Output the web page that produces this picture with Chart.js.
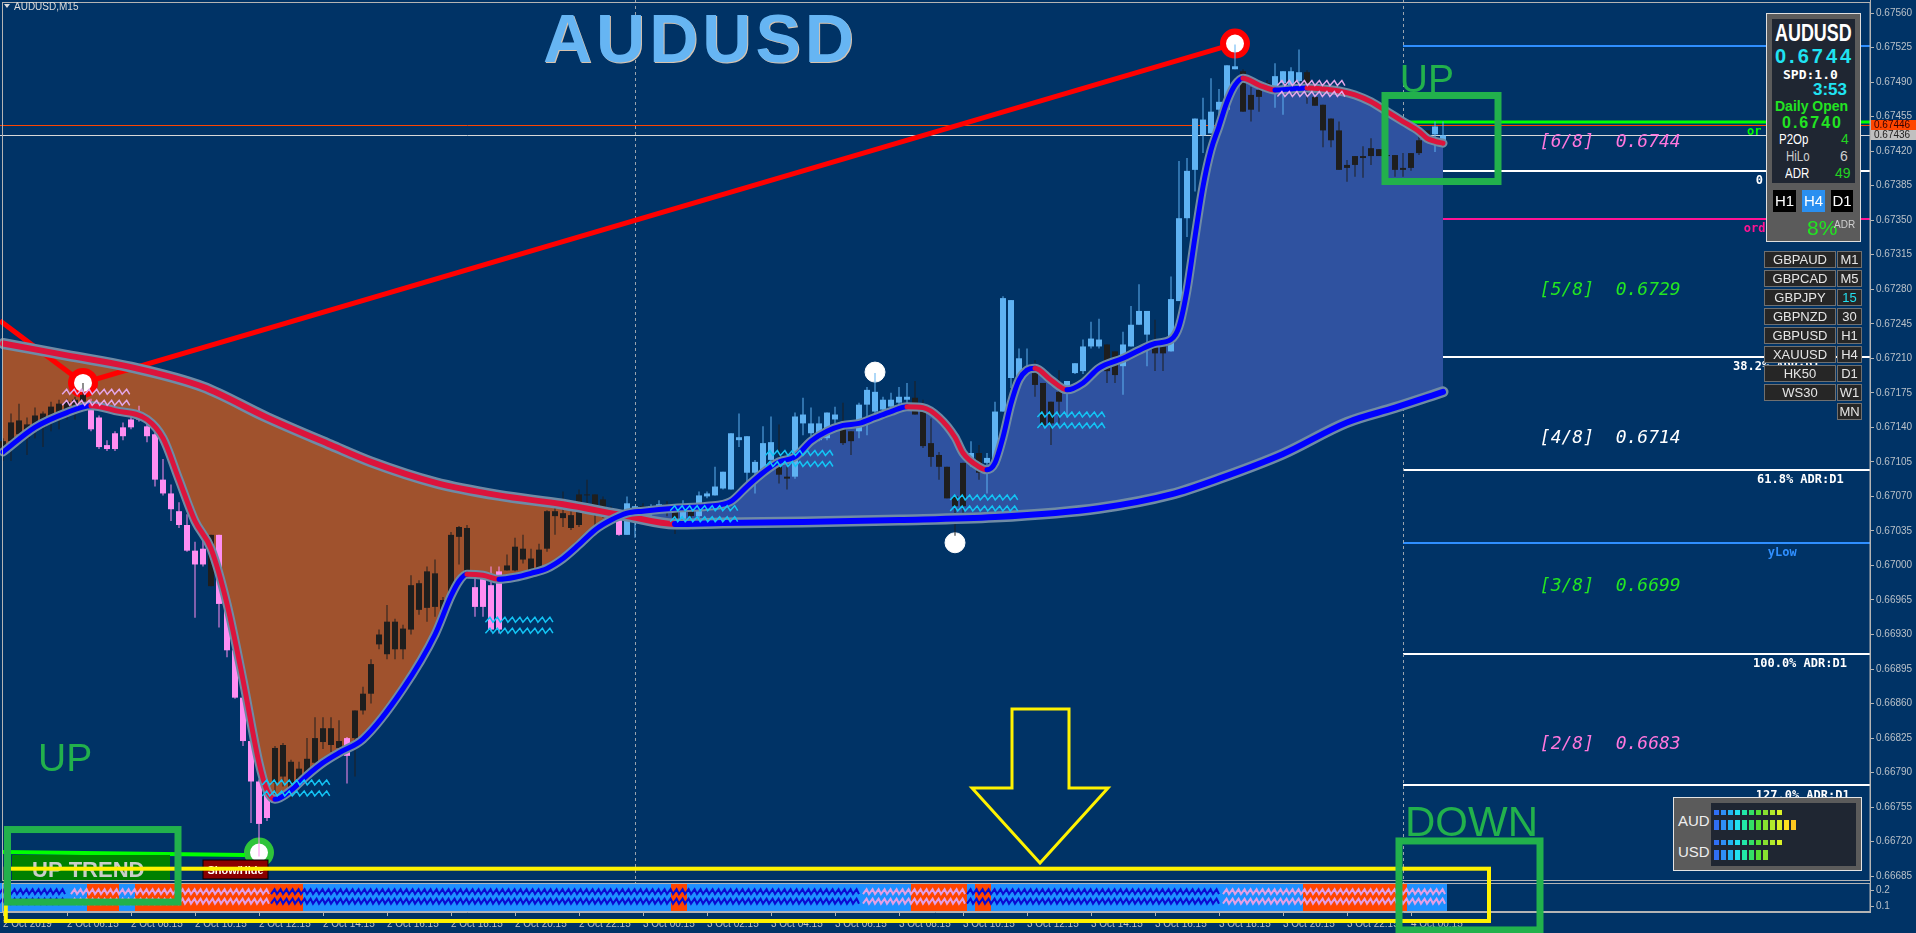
<!DOCTYPE html>
<html>
<head>
<meta charset="utf-8">
<title>AUDUSD M15</title>
<script src="https://cdn.jsdelivr.net/npm/chart.js@4.4.1/dist/chart.umd.min.js"></script>
<style>
  html, body { margin: 0; padding: 0; background: #003366; overflow: hidden; }
  #stage { position: relative; width: 1916px; height: 933px; font-family: "Liberation Sans", Arial, sans-serif; }
  #stage canvas { position: absolute; left: 0; top: 0; }
  .abs { position: absolute; white-space: nowrap; line-height: 1; }
  #title { left: 543px; top: 4px; font-size: 68px; font-weight: bold; letter-spacing: 4px; color: #66b5f3; text-shadow: 1px 1px 0 #d9c3ad; }
  #info { left: 1766px; top: 13px; width: 95px; height: 229px; box-sizing: border-box; border: 1px solid #dedede; background: #5b5b5b; }
  #infoIn { left: 1772px; top: 19px; width: 83px; height: 164px; background: #1f2632; }
  .btn { position: absolute; box-sizing: border-box; height: 22px; top: 190px; color: #fff; font-size: 15px; text-align: center; line-height: 22px; }
  .sym { position: absolute; box-sizing: border-box; height: 17px; border: 1px solid #707070; background: #262626; color: #e6e6e6; font-size: 13px; text-align: center; line-height: 15px; }
  .narrow { transform: scaleX(0.82); transform-origin: 0 0; }
  #str { left: 1673px; top: 797px; width: 189px; height: 74px; box-sizing: border-box; border: 1px solid #e4e4e4; background: #5b5b5b; }
  #strIn { left: 1711px; top: 803px; width: 145px; height: 63px; background: #1f2632; }
  .seg { position: absolute; }
</style>
</head>
<body>
<div id="stage">
  <canvas id="c" width="1916" height="933"></canvas>
  <div id="title" class="abs">AUDUSD</div>

  <div id="info" class="abs"></div>
  <div id="infoIn" class="abs"></div>
  <div class="abs" style="left:1775px;top:22px;font-size:23px;font-weight:bold;color:#fff;transform:scaleX(0.78);transform-origin:0 0;">AUDUSD</div>
  <div class="abs" style="left:1775px;top:46px;font-size:20px;font-weight:bold;letter-spacing:3px;color:#1fe3f2;">0.6744</div>
  <div class="abs" style="left:1783px;top:67px;font:bold 13px 'DejaVu Sans Mono',monospace;color:#fff;">SPD:1.0</div>
  <div class="abs" style="left:1813px;top:81px;font-size:17px;font-weight:bold;color:#1fe3f2;">3:53</div>
  <div class="abs" style="left:1775px;top:99px;font-size:14px;font-weight:bold;color:#22e422;">Daily Open</div>
  <div class="abs" style="left:1782px;top:115px;font-size:16px;font-weight:bold;letter-spacing:2px;color:#22e422;">0.6740</div>
  <div class="abs narrow" style="left:1779px;top:132px;font-size:14px;color:#fff;">P2Op</div>
  <div class="abs" style="left:1841px;top:132px;font-size:14px;color:#22d422;">4</div>
  <div class="abs narrow" style="left:1786px;top:149px;font-size:14px;color:#cfcfcf;">HiLo</div>
  <div class="abs" style="left:1840px;top:149px;font-size:14px;color:#cfcfcf;">6</div>
  <div class="abs narrow" style="left:1785px;top:166px;font-size:14px;color:#fff;">ADR</div>
  <div class="abs" style="left:1835px;top:166px;font-size:14px;color:#22d422;">49</div>
  <div class="btn" style="left:1773px;width:23px;background:#000;">H1</div>
  <div class="btn" style="left:1802px;width:23px;background:#2a8ff0;">H4</div>
  <div class="btn" style="left:1831px;width:22px;background:#000;">D1</div>
  <div class="abs" style="left:1807px;top:217px;font-size:21px;color:#22e422;">8%</div>
  <div class="abs" style="left:1834px;top:220px;font-size:10px;color:#cfcfcf;">ADR</div>

  <div id="symbols"></div>

  <div id="str" class="abs"></div>
  <div id="strIn" class="abs"></div>
  <div class="abs" style="left:1678px;top:813px;font-size:15px;color:#eee;">AUD</div>
  <div class="abs" style="left:1678px;top:844px;font-size:15px;color:#eee;">USD</div>
  <div id="meters"></div>
</div>

<script>
// ---------- values ----------
const timeLabels = ["2 Oct 2019", "2 Oct 06:15", "2 Oct 08:15", "2 Oct 10:15", "2 Oct 12:15", "2 Oct 14:15",
  "2 Oct 16:15", "2 Oct 18:15", "2 Oct 20:15", "2 Oct 22:15", "3 Oct 00:15", "3 Oct 02:15", "3 Oct 04:15",
  "3 Oct 06:15", "3 Oct 08:15", "3 Oct 10:15", "3 Oct 12:15", "3 Oct 14:15", "3 Oct 16:15", "3 Oct 18:15",
  "3 Oct 20:15", "3 Oct 22:15", "4 Oct 00:15"];
const priceTicks = [0.67560, 0.67525, 0.67490, 0.67455, 0.67420, 0.67385, 0.67350, 0.67315, 0.67280, 0.67245,
  0.67210, 0.67175, 0.67140, 0.67105, 0.67070, 0.67035, 0.67000, 0.66965, 0.66930, 0.66895, 0.66860, 0.66825,
  0.66790, 0.66755, 0.66720, 0.66685];
const subTicks = [0.1, 0.2];

// M15 candles, one entry per bar (bar 0 = 2 Oct 04:15)
const opens = [
  0.67113,0.67126,0.67133,0.67129,0.67136,0.67140,0.67150,0.67154,0.67157,0.67161,
  0.67166,0.67164,0.67150,0.67122,0.67134,0.67140,0.67148,0.67155,0.67141,0.67133,
  0.67087,0.67073,0.67055,0.67041,0.67015,0.67017,0.66979,0.67031,0.66961,0.66914,
  0.66866,0.66822,0.66781,0.66770,0.66780,0.66786,0.66770,0.66780,0.66790,0.66800,
  0.66821,0.66818,0.66815,0.66825,0.66825,0.66853,0.66870,0.66920,0.66910,0.66915,
  0.66915,0.66935,0.66955,0.66957,0.66958,0.66955,0.66972,0.67029,0.66989,0.66978,
  0.66987,0.66980,0.66994,0.66995,0.66995,0.67006,0.66995,0.66995,0.67017,0.67050,
  0.67048,0.67038,0.67041,0.67071,0.67053,0.67050,0.67048,0.67046,0.67031,0.67050,
  0.67060,0.67055,0.67060,0.67062,0.67058,0.67045,0.67058,0.67050,0.67070,0.67071,
  0.67078,0.67077,0.67127,0.67094,0.67094,0.67094,0.67107,0.67100,0.67090,0.67090,
  0.67144,0.67134,0.67127,0.67129,0.67148,0.67138,0.67136,0.67136,0.67163,0.67156,
  0.67158,0.67161,0.67165,0.67168,0.67170,0.67158,0.67124,0.67112,0.67100,0.67070,
  0.67104,0.67107,0.67114,0.67104,0.67107,0.67156,0.67190,0.67190,0.67197,0.67195,
  0.67185,0.67166,0.67176,0.67182,0.67195,0.67197,0.67222,0.67222,0.67224,0.67217,
  0.67202,0.67222,0.67244,0.67234,0.67227,0.67222,0.67217,0.67268,0.67352,0.67401,
  0.67436,0.67438,0.67462,0.67462,0.67503,0.67501,0.67477,0.67482,0.67489,0.67481,
  0.67489,0.67487,0.67491,0.67500,0.67475,0.67467,0.67453,0.67441,0.67406,0.67415,
  0.67415,0.67423,0.67422,0.67416,0.67416,0.67403,0.67418,0.67431,0.67441,0.67437,
  0.67430];
const highs = [
  0.67129,0.67154,0.67164,0.67150,0.67160,0.67156,0.67166,0.67168,0.67169,0.67171,
  0.67185,0.67169,0.67152,0.67127,0.67136,0.67145,0.67157,0.67162,0.67145,0.67136,
  0.67108,0.67082,0.67064,0.67052,0.67024,0.67028,0.67031,0.67031,0.66963,0.66916,
  0.66868,0.66824,0.66783,0.66775,0.66817,0.66820,0.66803,0.66801,0.66825,0.66846,
  0.66846,0.66846,0.66843,0.66826,0.66853,0.66877,0.66905,0.66935,0.66960,0.66946,
  0.66940,0.66990,0.66985,0.66999,0.67006,0.66968,0.67034,0.67040,0.67041,0.66989,
  0.66987,0.66999,0.66999,0.67011,0.67028,0.67031,0.67017,0.67022,0.67056,0.67063,
  0.67075,0.67055,0.67077,0.67087,0.67072,0.67070,0.67060,0.67048,0.67070,0.67060,
  0.67063,0.67062,0.67066,0.67065,0.67060,0.67066,0.67062,0.67075,0.67075,0.67100,
  0.67095,0.67134,0.67154,0.67131,0.67107,0.67141,0.67151,0.67143,0.67100,0.67155,
  0.67170,0.67160,0.67151,0.67155,0.67161,0.67165,0.67136,0.67165,0.67181,0.67195,
  0.67171,0.67175,0.67181,0.67185,0.67187,0.67168,0.67149,0.67115,0.67100,0.67070,
  0.67104,0.67126,0.67122,0.67114,0.67166,0.67273,0.67269,0.67220,0.67220,0.67208,
  0.67185,0.67166,0.67198,0.67187,0.67205,0.67229,0.67247,0.67250,0.67224,0.67217,
  0.67237,0.67263,0.67285,0.67258,0.67249,0.67222,0.67293,0.67410,0.67413,0.67453,
  0.67474,0.67494,0.67483,0.67507,0.67528,0.67503,0.67485,0.67487,0.67492,0.67509,
  0.67501,0.67505,0.67523,0.67502,0.67476,0.67467,0.67453,0.67450,0.67411,0.67415,
  0.67425,0.67433,0.67422,0.67420,0.67416,0.67418,0.67418,0.67441,0.67441,0.67450,
  0.67450];
const lows = [
  0.67106,0.67106,0.67122,0.67112,0.67129,0.67120,0.67136,0.67138,0.67148,0.67148,
  0.67161,0.67136,0.67118,0.67116,0.67116,0.67127,0.67138,0.67146,0.67125,0.67080,
  0.67071,0.67045,0.67038,0.67014,0.66947,0.66999,0.66979,0.66937,0.66907,0.66865,
  0.66817,0.66739,0.66705,0.66741,0.66764,0.66776,0.66763,0.66776,0.66786,0.66793,
  0.66814,0.66811,0.66804,0.66779,0.66786,0.66849,0.66860,0.66915,0.66905,0.66905,
  0.66905,0.66930,0.66950,0.66943,0.66948,0.66948,0.66969,0.67001,0.66987,0.66948,
  0.66948,0.66933,0.66931,0.66995,0.66994,0.67002,0.66994,0.66995,0.67014,0.67031,
  0.67039,0.67036,0.67039,0.67058,0.67039,0.67048,0.67045,0.67030,0.67031,0.67028,
  0.67052,0.67050,0.67055,0.67050,0.67032,0.67043,0.67036,0.67048,0.67068,0.67071,
  0.67077,0.67077,0.67120,0.67077,0.67073,0.67090,0.67104,0.67083,0.67077,0.67088,
  0.67132,0.67131,0.67126,0.67127,0.67144,0.67122,0.67112,0.67129,0.67132,0.67154,
  0.67154,0.67153,0.67161,0.67161,0.67153,0.67119,0.67100,0.67087,0.67068,0.67030,
  0.67053,0.67100,0.67087,0.67073,0.67107,0.67156,0.67180,0.67190,0.67193,0.67171,
  0.67141,0.67122,0.67144,0.67150,0.67194,0.67194,0.67220,0.67220,0.67185,0.67185,
  0.67173,0.67222,0.67244,0.67202,0.67197,0.67197,0.67217,0.67268,0.67333,0.67379,
  0.67418,0.67438,0.67445,0.67462,0.67503,0.67460,0.67450,0.67460,0.67482,0.67464,
  0.67457,0.67482,0.67487,0.67468,0.67466,0.67424,0.67424,0.67401,0.67389,0.67394,
  0.67393,0.67406,0.67415,0.67410,0.67394,0.67394,0.67400,0.67416,0.67435,0.67419,
  0.67428];
const closes = [
  0.67126,0.67145,0.67147,0.67143,0.67152,0.67154,0.67161,0.67164,0.67166,0.67168,
  0.67173,0.67138,0.67120,0.67118,0.67118,0.67131,0.67140,0.67148,0.67131,0.67087,
  0.67073,0.67057,0.67041,0.67015,0.67001,0.67001,0.67031,0.66961,0.66914,0.66866,
  0.66822,0.66781,0.66738,0.66744,0.66815,0.66818,0.66801,0.66794,0.66804,0.66825,
  0.66835,0.66835,0.66822,0.66807,0.66853,0.66870,0.66900,0.66930,0.66943,0.66943,
  0.66936,0.66980,0.66982,0.66994,0.66992,0.66965,0.67031,0.67039,0.67038,0.66958,
  0.66958,0.66935,0.66935,0.67000,0.67019,0.67017,0.67007,0.67016,0.67055,0.67055,
  0.67053,0.67051,0.67072,0.67072,0.67072,0.67067,0.67055,0.67031,0.67063,0.67060,
  0.67055,0.67060,0.67062,0.67058,0.67045,0.67060,0.67050,0.67071,0.67073,0.67080,
  0.67095,0.67134,0.67130,0.67131,0.67105,0.67124,0.67125,0.67092,0.67088,0.67151,
  0.67153,0.67144,0.67144,0.67155,0.67153,0.67124,0.67126,0.67163,0.67178,0.67176,
  0.67168,0.67168,0.67171,0.67171,0.67153,0.67121,0.67110,0.67100,0.67068,0.67060,
  0.67060,0.67114,0.67094,0.67109,0.67156,0.67271,0.67269,0.67210,0.67199,0.67183,
  0.67142,0.67144,0.67166,0.67187,0.67205,0.67222,0.67230,0.67229,0.67197,0.67193,
  0.67224,0.67244,0.67258,0.67258,0.67215,0.67215,0.67270,0.67352,0.67400,0.67453,
  0.67452,0.67460,0.67470,0.67507,0.67506,0.67460,0.67462,0.67475,0.67486,0.67496,
  0.67501,0.67501,0.67500,0.67484,0.67466,0.67441,0.67431,0.67401,0.67403,0.67406,
  0.67413,0.67415,0.67415,0.67415,0.67401,0.67401,0.67403,0.67418,0.67435,0.67445,
  0.67436];

// fast and slow moving averages, read at these bars
const fastBars = [0,4,8,11,14,18,20,22,24,26, 28,30,32,33,34,36,38,40,42,45, 50,54,56,57,58,60,62,64,66,68,
  70,72,74,76,78,80,84,88,91,93, 95,97,99,101,103,105,107,109,111,113, 115,117,119,120,122,123,124,125,126,127,
  128,129,131,133,135,137,140,142,144,146, 147,148,149,150,151,152,153,154,155,157, 159,161,163,165,167,169,171,173,175,177,
  178,179,180];
const fastMA = [0.67115,0.67140,0.67155,0.67162,0.67157,0.67148,0.67129,0.67087,0.67045,0.67017,
  0.66961,0.66884,0.66800,0.66772,0.66763,0.66772,0.66787,0.66800,0.66810,0.66824,
  0.66875,0.66930,0.66969,0.66984,0.66991,0.66990,0.66986,0.66988,0.66992,0.66997,
  0.67007,0.67021,0.67036,0.67046,0.67053,0.67055,0.67058,0.67060,0.67065,0.67080,
  0.67094,0.67105,0.67110,0.67126,0.67136,0.67142,0.67144,0.67150,0.67156,0.67161,
  0.67160,0.67150,0.67130,0.67114,0.67100,0.67097,0.67104,0.67130,0.67164,0.67188,
  0.67198,0.67200,0.67188,0.67178,0.67185,0.67200,0.67210,0.67218,0.67225,0.67229,
  0.67242,0.67279,0.67333,0.67384,0.67421,0.67445,0.67470,0.67487,0.67494,0.67487,
  0.67482,0.67483,0.67484,0.67483,0.67481,0.67477,0.67470,0.67460,0.67450,0.67440,
  0.67433,0.67430,0.67428];
const slowBars = [0,8,16,25,33,41,46,54,62,70,78,84,90,100,112,124,137,146,152,160,168,174,180];
const slowMA = [0.67225,0.67213,0.67201,0.67181,0.67150,0.67122,0.67105,0.67084,0.67071,0.67062,0.67050,0.67042,
  0.67043,0.67044,0.67046,0.67049,0.67058,0.67072,0.67088,0.67113,0.67145,0.67160,0.67176];

// zigzag line and swing markers
const zigBars = [-0.375, 10, 154];
const zigPrices = [0.67248, 0.67185, 0.67529];
const markerBars = [10, 154, 32, 109, 119];
const markerPrices = [0.67185, 0.67529, 0.66709, 0.67196, 0.67023];
const markerKinds = ["peak", "peak", "trough", "swing", "swing"];

// fractal squiggles (start bar, price of upper row)
const waveBars = [7.4, 32.4, 60.3, 83.4, 95.3, 118.4, 129.3, 159.3];
const wavePrices = [0.67176, 0.66780, 0.66945, 0.67058, 0.67114, 0.67069, 0.67153, 0.67489];
const waveKinds = ["hi", "lo", "lo", "lo", "lo", "lo", "lo", "hi"];

// sub window: background state and pulse state per run of bars
const trendRuns = [[0,10,"up"],[11,14,"dn"],[15,16,"up"],[17,37,"dn"],[38,83,"up"],[84,85,"dn"],[86,113,"up"],
  [114,120,"dn"],[121,121,"up"],[122,123,"dn"],[124,162,"up"],[163,175,"dn"],[176,180,"up"]];
const pulseRuns = [[0,8,"strong"],[9,33,"weak"],[34,107,"strong"],[108,120,"weak"],[121,152,"strong"],[153,180,"weak"]];
const pulseLevels = [0.19, 0.13];

const askPrice = 0.67446, bidPrice = 0.67436;
const daySeparators = [79, 175];
const levelPrices = [0.67527, 0.67450, 0.67400, 0.67351, 0.67211, 0.67097, 0.67023, 0.66910, 0.66777];
const levelKinds = ["yHigh", "open", "zero", "order", "adr", "adr", "yLow", "adr", "adr"];
const levelTexts = ["", "or", "0", "ord", "38.2% ADR:D1", "61.8% ADR:D1", "yLow", "100.0% ADR:D1", "127.0% ADR:D1"];
const murreyPrices = [0.6744, 0.6729, 0.6714, 0.6699, 0.6683];
const murreyTexts = ["[6/8]  0.6744", "[5/8]  0.6729", "[4/8]  0.6714", "[3/8]  0.6699", "[2/8]  0.6683"];
const murreyKinds = ["pink", "green", "white", "green", "pink"];

const symbols = ["GBPAUD", "GBPCAD", "GBPJPY", "GBPNZD", "GBPUSD", "XAUUSD", "HK50", "WS30", ""];
const periods = ["M1", "M5", "15", "30", "H1", "H4", "D1", "W1", "MN"];
const audStrength = [10, 12];
const usdStrength = [10, 8];

// ---------- layout of the hand-drawn marks (bar / price units) ----------
const levelTextBars = [0, 218.0, 219.1, 217.6, 216.25, 219.25, 220.6, 218.75, 219.1];
const murreyTextBar = 192.1;
const paintBoxes = [[172.75, 0.674764, 186.875, 0.673892], [0.5625, 0.667323, 21.875, 0.666588], [174.5, 0.667207, 192.125, 0.666305]];
const paintFrame = [0.35, 0.666926, 185.75, 0.666396];
const arrowBars = [126.125, 133.25, 133.25, 138.125, 129.625, 121.125, 126.125];
const arrowPrices = [0.668545, 0.668545, 0.667744, 0.667744, 0.666984, 0.667744, 0.667744];
const paintWords = ["UP", "UP", "DOWN"];
const paintWordBars = [174.6, 4.375, 175.25];
const paintWordPrices = [0.674799, 0.667916, 0.667257];
const trendBadge = [1.125, 0.667065, 20.875, 0.666811];
const toggleBtn = [25, 0.667014, 33.125, 0.666822];
const trendLine = [0, 0.667095, 30.25, 0.667065];

// ---------- styles ----------
const PAINT_GREEN = "#22b14c", PAINT_YELLOW = "#fff200";
const levelStyle = {
  yHigh: {color: "#2f8fff", width: 2}, open: {color: "#00ff00", width: 3}, zero: {color: "#ffffff", width: 2},
  order: {color: "#ff1493", width: 2}, adr: {color: "#ffffff", width: 2}, yLow: {color: "#2f8fff", width: 2}
};
const murreyColor = {pink: "#ff77dd", green: "#22e622", white: "#ffffff"};
const markerStyle = {
  peak: {r: 12, w: 6, ring: "#ff0000", core: "#ffffff"},
  trough: {r: 12, w: 6, ring: "#2fc43a", core: "#ffffff"},
  swing: {r: 10, w: 1, ring: "#ffffff", core: "#ffffff"}
};
const trendColor = {up: "#1e90ff", dn: "#ff4500"};
const pulseColor = {strong: "#0a0ad2", weak: "#e3a0e6"};
const meterColors = ["#2f6ff5", "#2f8ff5", "#22b4f2", "#22e0f0", "#22e8a8", "#33e066", "#55e033", "#88e030", "#b0e82c", "#d8f028", "#ffe020", "#ffc820"];

function sampleAt(bars, vals, i) {
  let v = vals[0];
  for (let k = 0; k < bars.length && bars[k] <= i; k++) v = vals[k];
  return v;
}
function expandRuns(runs) {
  const out = [];
  runs.forEach(([a, b, s]) => { for (let i = a; i <= b; i++) out[i] = s; });
  return out;
}
const trendState = expandRuns(trendRuns);

function candleColor(i) {
  const bull = closes[i] >= opens[i];
  const upZone = sampleAt(fastBars, fastMA, i) > sampleAt(slowBars, slowMA, i);
  if (upZone) return bull ? "#5fb2f2" : "#1e1e1e";
  return bull ? "#1e1e1e" : "#ff8ef2";
}
const slopeColor = c => c.p1.parsed.y >= c.p0.parsed.y ? "#0000ff" : "#dc143c";

function saw(ctx, x0, x1, yc, period, amp) {
  ctx.beginPath();
  ctx.moveTo(x0, yc + amp);
  for (let t = x0; t < x1; t += period) {
    ctx.lineTo(t + period * 0.6, yc - amp);
    ctx.lineTo(t + period, yc + amp);
  }
  ctx.stroke();
}

// keep the axes from pushing the plot area inwards (MT4 draws labels right at the edge)
function noPad(s) {
  s.paddingTop = 0; s.paddingBottom = 0; s.paddingLeft = 0; s.paddingRight = 0;
}

const decor = {
  id: "decor",
  beforeDraw(chart) {
    const {ctx} = chart;
    const {x, y, y2} = chart.scales;
    const X = b => x.getPixelForValue(b), Y = p => Math.round(y.getPixelForValue(p));
    ctx.save();
    ctx.fillStyle = "#003366";
    ctx.fillRect(0, 0, chart.width, chart.height);
    ctx.lineWidth = 1;
    ctx.strokeStyle = "#ff4500";
    ctx.beginPath(); ctx.moveTo(x.left, Y(askPrice) + 0.5); ctx.lineTo(x.right, Y(askPrice) + 0.5); ctx.stroke();
    ctx.strokeStyle = "#d8d8d8";
    ctx.beginPath(); ctx.moveTo(x.left, Y(bidPrice) + 0.5); ctx.lineTo(x.right, Y(bidPrice) + 0.5); ctx.stroke();
    const x0 = X(daySeparators[daySeparators.length - 1]);
    levelPrices.forEach((p, k) => {
      const st = levelStyle[levelKinds[k]];
      ctx.strokeStyle = st.color; ctx.lineWidth = st.width;
      ctx.beginPath(); ctx.moveTo(x0, Y(p)); ctx.lineTo(x.right, Y(p)); ctx.stroke();
    });
    ctx.setLineDash([3, 3]);
    ctx.strokeStyle = "#9aa4ae"; ctx.lineWidth = 1;
    daySeparators.forEach(b => {
      const xx = Math.round(X(b)) + 0.5;
      ctx.beginPath(); ctx.moveTo(xx, y.top); ctx.lineTo(xx, y2.bottom); ctx.stroke();
    });
    ctx.restore();
  },
  afterDatasetsDraw(chart) {
    const {ctx} = chart;
    const {x, y, y2} = chart.scales;
    const X = b => x.getPixelForValue(b), Y = p => y.getPixelForValue(p), Y2 = v => y2.getPixelForValue(v);
    ctx.save();
    // fractal squiggles
    ctx.lineWidth = 1.5;
    waveBars.forEach((b, k) => {
      ctx.strokeStyle = waveKinds[k] === "hi" ? "#e3a6e8" : "#13c4f5";
      const x0 = X(b);
      [0, 11].forEach(off => saw(ctx, x0, x0 + 64, Y(wavePrices[k]) + off, 7.5, 2.5));
    });
    // pulse waves in the sub window
    ctx.lineWidth = 2;
    pulseRuns.forEach(([a, b, s]) => {
      ctx.strokeStyle = pulseColor[s];
      pulseLevels.forEach(v => saw(ctx, X(a) - 4, X(b) + 4 - 6, Y2(v), 6, 2.5));
    });
    // pane frames
    ctx.strokeStyle = "#b4b4b4"; ctx.lineWidth = 1;
    ctx.strokeRect(2.5, y.top + 2.5, x.right - 2.5, y.bottom - y.top - 5);
    ctx.strokeRect(2.5, y2.top + 0.5, x.right - 2.5, y2.bottom - y2.top - 1);
    // right side level texts
    ctx.font = "bold 12px 'DejaVu Sans Mono', monospace";
    ctx.textBaseline = "middle"; ctx.textAlign = "left";
    levelTexts.forEach((t, k) => {
      if (!t) return;
      ctx.fillStyle = levelStyle[levelKinds[k]].color;
      ctx.fillText(t, X(levelTextBars[k]), Y(levelPrices[k]) + 10);
    });
    ctx.font = "italic 18px 'DejaVu Sans Mono', monospace";
    murreyTexts.forEach((t, k) => {
      ctx.fillStyle = murreyColor[murreyKinds[k]];
      ctx.fillText(t, X(murreyTextBar), Y(murreyPrices[k]) + 11);
    });
    // trend badge and toggle button (bottom left)
    ctx.strokeStyle = "#00ff00"; ctx.lineWidth = 4;
    ctx.beginPath(); ctx.moveTo(X(trendLine[0]), Y(trendLine[1])); ctx.lineTo(X(trendLine[2]), Y(trendLine[3])); ctx.stroke();
    ctx.fillStyle = "#008000";
    ctx.fillRect(X(trendBadge[0]), Y(trendBadge[1]), X(trendBadge[2]) - X(trendBadge[0]), Y(trendBadge[3]) - Y(trendBadge[1]));
    ctx.fillStyle = "#c9cec9"; ctx.font = "bold 22px 'Liberation Sans', Arial";
    ctx.textBaseline = "alphabetic";
    ctx.fillText("UP TREND", X(trendBadge[0]) + 20, Y(trendBadge[3]) - 3);
    ctx.fillStyle = "#8b0000"; ctx.strokeStyle = "#000"; ctx.lineWidth = 1;
    const tb = [X(toggleBtn[0]), Y(toggleBtn[1]), X(toggleBtn[2]) - X(toggleBtn[0]), Y(toggleBtn[3]) - Y(toggleBtn[1])];
    ctx.fillRect(...tb); ctx.strokeRect(...tb);
    ctx.fillStyle = "#fff"; ctx.font = "bold 11px 'Liberation Sans', Arial"; ctx.textAlign = "center"; ctx.textBaseline = "middle";
    ctx.fillText("Show/Hide", tb[0] + tb[2] / 2, tb[1] + tb[3] / 2 + 1);
    // yellow frame and arrow
    ctx.strokeStyle = PAINT_YELLOW; ctx.lineWidth = 4;
    ctx.strokeRect(X(paintFrame[0]), Y(paintFrame[1]), X(paintFrame[2]) - X(paintFrame[0]), Y(paintFrame[3]) - Y(paintFrame[1]));
    ctx.lineWidth = 3; ctx.lineJoin = "miter";
    ctx.beginPath();
    arrowBars.forEach((b, k) => k ? ctx.lineTo(X(b), Y(arrowPrices[k])) : ctx.moveTo(X(b), Y(arrowPrices[k])));
    ctx.closePath(); ctx.stroke();
    // green boxes and words
    ctx.strokeStyle = PAINT_GREEN; ctx.lineWidth = 7;
    paintBoxes.forEach(([b0, p0, b1, p1]) => ctx.strokeRect(X(b0), Y(p0), X(b1) - X(b0), Y(p1) - Y(p0)));
    ctx.fillStyle = PAINT_GREEN; ctx.textAlign = "left"; ctx.textBaseline = "alphabetic";
    paintWords.forEach((w, k) => {
      ctx.font = (w === "DOWN" ? 42 : 39) + "px 'Liberation Sans', Arial";
      ctx.fillText(w, X(paintWordBars[k]), Y(paintWordPrices[k]));
    });
    ctx.restore();
  },
  afterDraw(chart) {
    const {ctx} = chart;
    const {x, y} = chart.scales;
    ctx.save();
    ctx.font = "10px 'Liberation Sans', Arial"; ctx.textBaseline = "middle"; ctx.textAlign = "left";
    [[askPrice, "#ff4500", "#300"], [bidPrice, "#c0c0c0", "#222"]].forEach(([p, bg, fg]) => {
      const yy = Math.round(y.getPixelForValue(p));
      ctx.fillStyle = bg; ctx.fillRect(x.right + 1, yy - 5, 45, 10);
      ctx.fillStyle = fg; ctx.fillText(p.toFixed(5), x.right + 4, yy);
    });
    // window caption
    ctx.fillStyle = "#dcdcdc";
    ctx.beginPath(); ctx.moveTo(4, 4); ctx.lineTo(10, 4); ctx.lineTo(7, 8); ctx.closePath(); ctx.fill();
    ctx.fillText("AUDUSD,M15", 14, 7);
    ctx.restore();
  }
};

const idx = opens.map((_, i) => i);
const pts = (bars, vals) => bars.map((b, k) => ({x: b, y: vals[k]}));
const lineBase = {type: "line", pointRadius: 0, cubicInterpolationMode: "monotone", borderCapStyle: "round", borderJoinStyle: "round", yAxisID: "y"};

Chart.defaults.font.family = "'Liberation Sans', Arial, sans-serif";

new Chart(document.getElementById("c"), {
  type: "bar",
  data: {
    datasets: [
      {type: "line", label: "ZigZag", data: pts(zigBars, zigPrices), borderColor: "#ff0000", borderWidth: 5,
        pointRadius: 0, yAxisID: "y", order: 20},
      {type: "scatter", label: "Swings", data: pts(markerBars, markerPrices), yAxisID: "y", order: 19,
        pointRadius: markerKinds.map(k => markerStyle[k].r), pointBorderWidth: markerKinds.map(k => markerStyle[k].w),
        pointBorderColor: markerKinds.map(k => markerStyle[k].ring), pointBackgroundColor: markerKinds.map(k => markerStyle[k].core)},
      {label: "Wick", data: idx.map(i => ({x: i, y: [lows[i], highs[i]]})), backgroundColor: c => candleColor(c.dataIndex),
        barThickness: 1, grouped: false, inflateAmount: 0, borderWidth: 0, yAxisID: "y", order: 18},
      {label: "Body", data: idx.map(i => ({x: i, y: [opens[i], closes[i]]})), backgroundColor: c => candleColor(c.dataIndex),
        barThickness: 6, minBarLength: 1, grouped: false, inflateAmount: 0, borderWidth: 0, yAxisID: "y", order: 17},
      {label: "Trend", data: idx.map(i => ({x: i, y: [0.0625, 0.24375]})), backgroundColor: c => trendColor[trendState[c.dataIndex]],
        barThickness: 8, grouped: false, inflateAmount: 0, borderWidth: 0, yAxisID: "y2", order: 16},
      {...lineBase, label: "Slow edge", data: pts(slowBars, slowMA), borderColor: "#6f8ba5", borderWidth: 11, order: 15},
      {...lineBase, label: "Slow MA", data: pts(slowBars, slowMA), borderColor: "#dc143c", borderWidth: 6,
        segment: {borderColor: slopeColor}, order: 14},
      {...lineBase, label: "Fast edge", data: pts(fastBars, fastMA), borderColor: "#6f8ba5", borderWidth: 9,
        fill: {target: 5, above: "#2f52a0", below: "#a0522d"}, order: 13},
      {...lineBase, label: "Fast MA", data: pts(fastBars, fastMA), borderColor: "#0000ff", borderWidth: 5,
        segment: {borderColor: slopeColor}, order: 12}
    ]
  },
  options: {
    responsive: false, animation: false, events: [],
    layout: {padding: 0, autoPadding: false},
    plugins: {legend: {display: false}, tooltip: {enabled: false}, filler: {drawTime: "beforeDatasetsDraw"}},
    scales: {
      x: {
        type: "linear", min: -0.375, max: 233.375, offset: false,
        afterBuildTicks: s => { s.ticks = timeLabels.map((_, k) => ({value: k * 8})); },
        afterFit: s => { s.height = 21; noPad(s); },
        ticks: {autoSkip: false, maxRotation: 0, minRotation: 0, align: "start", padding: 2, color: "#c0c0c0",
          font: {size: 10}, callback: (v, k) => timeLabels[k]},
        grid: {drawOnChartArea: false, offset: false, tickLength: 4, color: "#b4b4b4"},
        border: {color: "#b4b4b4"}
      },
      y: {
        position: "right", stack: "panes", stackWeight: 883, min: 0.666781, max: 0.675732,
        afterBuildTicks: s => { s.ticks = priceTicks.map(v => ({value: v})); },
        afterFit: s => { s.width = 46; noPad(s); },
        ticks: {autoSkip: false, color: "#b8c0c8", font: {size: 10}, padding: 2, callback: v => v.toFixed(5)},
        grid: {drawOnChartArea: false, tickLength: 4, color: "#b4b4b4"},
        border: {color: "#b4b4b4"}
      },
      y2: {
        position: "right", stack: "panes", stackWeight: 29, min: 0.0625, max: 0.24375,
        afterBuildTicks: s => { s.ticks = subTicks.map(v => ({value: v})); },
        afterFit: s => { s.width = 46; noPad(s); },
        ticks: {autoSkip: false, color: "#b8c0c8", font: {size: 10}, padding: 2, callback: v => v.toFixed(1)},
        grid: {drawOnChartArea: false, tickLength: 4, color: "#b4b4b4"},
        border: {color: "#b4b4b4"}
      }
    }
  },
  plugins: [decor]
});

// symbol / period buttons
const symBox = document.getElementById("symbols");
symbols.forEach((s, k) => {
  const top = 251 + 19 * k;
  if (s) {
    const a = document.createElement("div");
    a.className = "sym"; a.style.left = "1764px"; a.style.top = top + "px"; a.style.width = "72px"; a.textContent = s;
    symBox.appendChild(a);
  }
  const b = document.createElement("div");
  b.className = "sym"; b.style.left = "1837px"; b.style.top = top + "px"; b.style.width = "25px"; b.textContent = periods[k];
  if (periods[k] === "15") b.style.color = "#22e0f0";
  symBox.appendChild(b);
});

// currency strength meters
const meters = document.getElementById("meters");
[[audStrength, 810], [usdStrength, 840]].forEach(([vals, top]) => {
  vals.forEach((n, row) => {
    for (let k = 0; k < n; k++) {
      const d = document.createElement("div");
      d.className = "seg";
      d.style.left = (1714 + 7 * k) + "px";
      d.style.top = (row ? top + 10 : top) + "px";
      d.style.width = "5px";
      d.style.height = (row ? 10 : 5) + "px";
      d.style.background = meterColors[Math.min(k, meterColors.length - 1)];
      meters.appendChild(d);
    }
  });
});
</script>
</body>
</html>
